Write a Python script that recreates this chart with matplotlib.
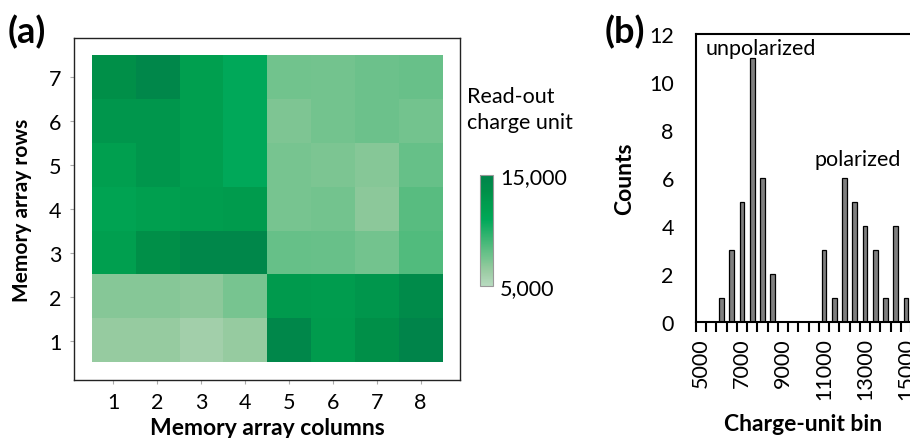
import numpy as np
import matplotlib
matplotlib.use("Agg")
import matplotlib.pyplot as plt
from matplotlib.colors import LinearSegmentedColormap

plt.rcParams['font.family'] = ['Lato', 'DejaVu Sans']

# read-out charge per cell, row 1 (bottom) .. row 7 (top), columns 1..8
charge = [
    [6500, 6500, 6000, 6500, 14500, 12500, 13500, 15000],
    [7000, 7000, 6800, 7400, 12600, 12400, 13000, 14000],
    [12000, 13500, 14600, 14600, 8000, 7900, 7500, 8600],
    [11500, 12100, 12300, 12500, 7400, 7500, 6800, 8400],
    [12000, 13000, 12000, 11000, 7400, 7300, 7000, 8000],
    [13000, 13000, 12000, 11000, 7200, 7500, 7800, 7500],
    [13500, 14500, 12000, 11000, 7600, 7500, 7800, 7900],
]
col_labels = ["1", "2", "3", "4", "5", "6", "7", "8"]
row_labels = ["1", "2", "3", "4", "5", "6", "7"]

# histogram of the same read-outs, 500-unit bins
bins = [5000, 5500, 6000, 6500, 7000, 7500, 8000, 8500, 9000, 9500, 10000,
        10500, 11000, 11500, 12000, 12500, 13000, 13500, 14000, 14500, 15000]
counts = [0, 0, 1, 3, 5, 11, 6, 2, 0, 0, 0, 0, 3, 1, 6, 5, 4, 3, 1, 4, 1]

vmin, vmax = 5000, 15000
nodes = [(5000, '#b8dcc0'), (6000, '#a2cfaa'), (6500, '#96cba0'), (7000, '#86c797'),
         (7500, '#74c48f'), (8000, '#66c088'), (8500, '#55bc7f'), (11000, '#00a859'),
         (11500, '#00a453'), (12000, '#00a050'), (12500, '#009c4e'), (13000, '#00964c'),
         (13500, '#009048'), (14000, '#008c4a'), (14500, '#00884a'), (15000, '#00844a')]
cmap = LinearSegmentedColormap.from_list(
    'charge', [((v - vmin) / (vmax - vmin), c) for v, c in nodes])

FS = 15.5   # regular text
FB = 15     # bold axis titles

fig = plt.figure(figsize=(9.1, 4.39), dpi=100)

# ---- panel (a): heat map ----
ax = fig.add_axes([74 / 910, 58 / 439, 386 / 910, 342 / 439])
data = np.array(charge)
nrow, ncol = data.shape
im = ax.imshow(data, cmap=cmap, vmin=vmin, vmax=vmax, origin='lower',
               extent=(0.5, ncol + 0.5, 0.5, nrow + 0.5), aspect='auto',
               interpolation='nearest')
ax.set_xlim(0.1, ncol + 0.9)
ax.set_ylim(0.1, nrow + 0.9)
ax.set_xticks(np.arange(1, ncol + 1))
ax.set_xticklabels(col_labels)
ax.set_yticks(np.arange(1, nrow + 1))
ax.set_yticklabels(row_labels)
ax.tick_params(length=3, color='#aaaaaa', labelsize=FS, pad=6)
for s in ax.spines.values():
    s.set_linewidth(1.0)
    s.set_color('#222222')
ax.set_xlabel("Memory array columns", fontsize=16.5, fontweight='bold', labelpad=3)
ax.set_ylabel("Memory array rows", fontsize=FB, fontweight='bold', labelpad=12)
fig.text(8 / 910, 1 - 32 / 439, "(a)", fontsize=26, fontweight='bold', va='center')

# colour bar
cax = fig.add_axes([480 / 910, 152 / 439, 13 / 910, 111 / 439])
cb = fig.colorbar(im, cax=cax, ticks=[vmin, vmax])
cb.ax.set_yticklabels(["5,000", "15,000"])
cb.ax.tick_params(length=0, labelsize=FS, pad=5)
cb.outline.set_edgecolor('#999999')
cb.outline.set_linewidth(0.8)
fig.text(467 / 910, 1 - 110 / 439, "Read-out\ncharge unit", fontsize=FS,
         va='center', ha='left', linespacing=1.35)

# ---- panel (b): histogram ----
bx = fig.add_axes([696 / 910, 116 / 439, 215 / 910, 288 / 439])
pos = np.arange(len(bins))
bx.bar(pos, counts, width=0.46, color='#808080', edgecolor='black', linewidth=0.9)
bx.set_xlim(-0.5, len(bins) - 0.5)
bx.set_ylim(0, 12)
bx.set_yticks(np.arange(0, 13, 2))
bx.set_xticks(pos[::4])
bx.set_xticklabels([str(b) for b in bins[::4]], rotation=90)
bx.set_xticks(np.arange(-0.5, len(bins), 1), minor=True)
bx.tick_params(axis='x', which='major', length=0, labelsize=FS, pad=11)
bx.tick_params(axis='x', which='minor', length=7, width=1.5, color='black')
bx.tick_params(axis='y', length=0, labelsize=FS, pad=16)
for side in ['left', 'bottom', 'top']:
    bx.spines[side].set_linewidth(1.5)
    bx.spines[side].set_color('black')
bx.spines['right'].set_visible(False)
bx.set_xlabel("Charge-unit bin", fontsize=16.5, fontweight='bold', labelpad=10)
bx.set_ylabel("Counts", fontsize=16.5, fontweight='bold', labelpad=10)
bx.text(0.4, 11.4, "unpolarized", fontsize=FS, va='center', ha='left')
bx.text(11.1, 6.8, "polarized", fontsize=FS, va='center', ha='left')
fig.text(605 / 910, 1 - 32 / 439, "(b)", fontsize=26, fontweight='bold', va='center')

fig.savefig("out.png", dpi=100)
